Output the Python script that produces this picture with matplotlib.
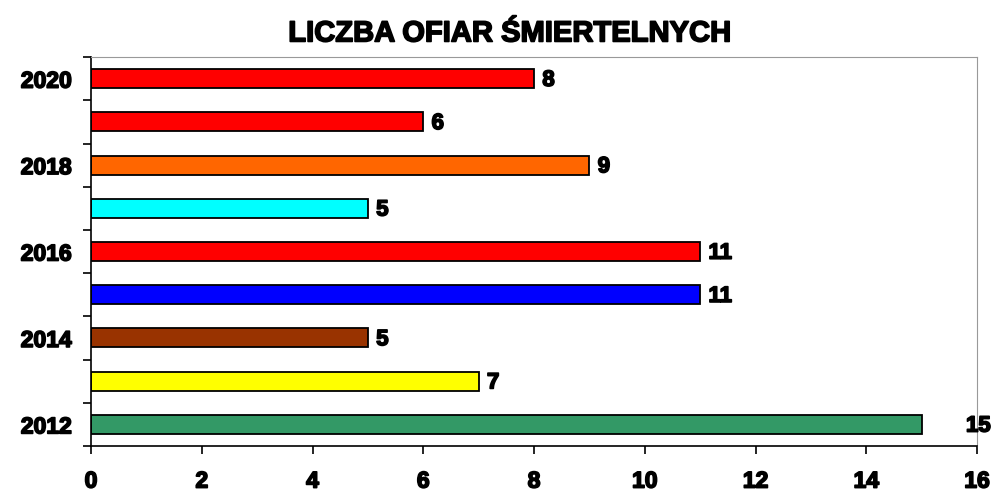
import matplotlib.pyplot as plt
import matplotlib.patheffects as pe
import numpy as np

years = [2012, 2013, 2014, 2015, 2016, 2017, 2018, 2019, 2020]
deaths = [15, 7, 5, 11, 11, 5, 9, 6, 8]
colors = ['#339966', '#FFFF00', '#993300', '#0000FF', '#FF0000',
          '#00FFFF', '#FF6600', '#FF0000', '#FF0000']
title = 'LICZBA OFIAR ŚMIERTELNYCH'

plt.rcParams['font.family'] = ['Liberation Sans', 'DejaVu Sans']
heavy = [pe.withStroke(linewidth=1.2, foreground='black')]

fig = plt.figure(figsize=(9.98, 4.92), dpi=100)
ax = fig.add_axes([0.0912, 0.0935, 0.8878, 0.7905])

y = np.arange(len(years))
ax.barh(y, deaths, height=0.44, color=colors, edgecolor='black', linewidth=1.3)

for i, v in enumerate(deaths):
    # last bar label sits off to the right like in the original
    off = 0.8 if v == max(deaths) else 0.15
    ax.text(v + off, i - 0.04, str(v), va='center', ha='left',
            fontsize=16, fontweight='bold', path_effects=heavy)

ax.set_xlim(0, 16)
ax.set_ylim(-0.5, len(years) - 0.5)
ax.set_xticks(range(0, 17, 2))
ax.set_yticks(y)
ax.set_yticklabels([str(yr) if yr % 2 == 0 else '' for yr in years])
ax.set_yticks(np.arange(-0.5, len(years), 1), minor=True)

ax.tick_params(axis='y', which='major', length=0, pad=14, labelsize=16.5)
ax.tick_params(axis='y', which='minor', length=6, width=1.2, direction='out')
ax.tick_params(axis='x', length=6, width=1.2, direction='out', pad=11, labelsize=16.5)
for lab in ax.get_xticklabels() + ax.get_yticklabels():
    lab.set_fontweight('bold')
    lab.set_path_effects(heavy)

ax.spines['left'].set_linewidth(1.2)
ax.spines['bottom'].set_linewidth(1.2)
ax.spines['top'].set_color('#999999')
ax.spines['right'].set_color('#999999')

fig.text(0.511, 0.932, title, ha='center', va='center', fontsize=21,
         fontweight='bold', path_effects=heavy)

fig.savefig('out.png', dpi=100)
